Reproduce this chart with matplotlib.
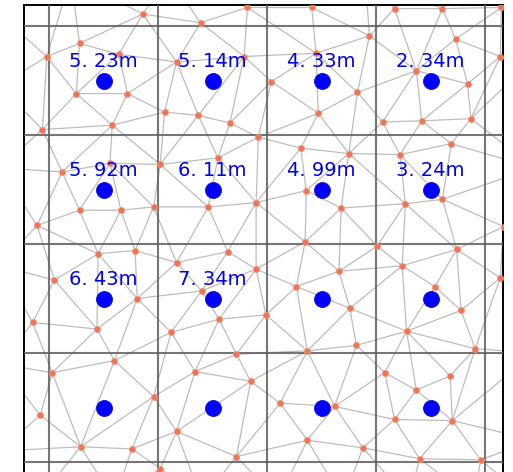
import matplotlib
matplotlib.use("Agg")
import matplotlib.pyplot as plt
import matplotlib.tri as mtri
import numpy as np

# sensor nodes (cell units, cell grid lines at 0..4, y down)
node_x = [0.86, 1.39, 1.82, 2.41, 3.17, 3.61, 4.15, 0.28, -0.02, 0.64, 1.17, 1.79, 2.94, 3.73, 4.14, 2.45,
          0.25, 0.72, 1.06, 1.37, 1.66, 0.58, -0.06, 2.04, 2.83, 3.37, 3.84, 2.47, 3.06, 3.42, 3.87,
          1.92, 1.55, 1.02, 0.56, 0.12, 2.31, 2.75, 3.22, 3.69,
          0.28, 0.66, 0.96, 1.46, 1.90, -0.11, 2.36, 2.68, 3.27, 3.61, 4.17, 2.35,
          0.45, 0.79, 1.17, 1.64, 1.90, 0.05, 0.81, 1.40, 3.01, 3.74, 2.66, 3.24, 4.14, 2.27, 3.54,
          -0.15, 0.44, 1.12, 1.56, 1.99, 2.76, 3.78, 3.28, 2.82, 2.37, 3.91,
          0.60, 0.03, 1.72, 1.34, 1.85, 3.08, 3.68, 3.37,
          0.96, -0.08, 2.12, 2.62, 3.17, 3.70, 1.17, 0.29, 0.76, 1.72, 1.02, 2.37, 2.88, 3.40, 3.96]
node_y = [-0.11, -0.03, -0.17, -0.17, -0.16, -0.16, -0.17, 0.16, 0.28, 0.26, 0.33, 0.28, 0.09, 0.12, 0.28, 0.25,
          0.62, 0.62, 0.79, 0.82, 0.89, 0.91, 0.95, 0.51, 0.61, 0.41, 0.53, 0.80, 0.88, 0.87, 0.85,
          1.02, 1.21, 1.27, 1.26, 1.34, 1.12, 1.17, 1.18, 1.08,
          1.69, 1.69, 1.66, 1.66, 1.62, 1.83, 1.51, 1.67, 1.63, 1.59, 1.84, 1.98,
          2.09, 2.06, 2.17, 2.07, 2.23, 2.33, 2.50, 2.43, 2.02, 2.05, 2.25, 2.20, 2.31, 2.39, 2.39,
          2.72, 2.78, 2.81, 2.69, 2.65, 2.59, 2.61, 2.80, 2.93, 2.98, 2.96,
          3.07, 3.18, 3.01, 3.17, 3.26, 3.18, 3.21, 3.34,
          3.40, 3.57, 3.46, 3.49, 3.61, 3.62, 3.72, 3.86, 3.88, 3.95, 4.06, 3.80, 3.87, 3.97, 3.98]

# nodes just outside the visible frame (only their links show)
outer_x = [-0.45, -0.45, -0.45, -0.45, -0.45, -0.45, 0.2, 1.1, 2.1, 2.9, 3.9,
           4.45, 4.45, 4.45, 4.45, 4.45, -0.1, 0.6, 1.4, 2.1, 2.7, 3.3, 3.9, 4.4,
           -0.45, 4.45, -0.45, 4.45]
outer_y = [-0.1, 0.55, 1.3, 2.2, 3.1, 3.9, -0.45, -0.45, -0.45, -0.45, -0.45,
           0.3, 1.3, 2.2, 3.0, 3.8, 4.35, 4.35, 4.35, 4.35, 4.35, 4.35, 4.35, 4.35,
           -0.45, -0.45, 4.35, 4.35]

# distances per cell, row by row (None = no reading)
distances = [5.23, 5.14, 4.33, 2.34,
             5.92, 6.11, 4.99, 3.24,
             6.43, 7.34, None, None,
             None, None, None, None]
n_cells = 4

fig = plt.figure(figsize=(5.13, 4.72), dpi=100)
ax = fig.add_axes([24/513, 0, 479/513, 467/472])

all_x = np.array(node_x + outer_x)
all_y = np.array(node_y + outer_y)
tri = mtri.Triangulation(all_x, all_y)
ax.triplot(tri, color="#bdbdbd", lw=0.9, zorder=1)
ax.plot(node_x, node_y, "o", color="#ee7555", ms=4.5, mec="#f29b80", mew=0.5, zorder=3)

# grid of cells
ax.set_xticks(np.arange(0, n_cells+1))
ax.set_yticks(np.arange(0, n_cells+1))
ax.grid(color="#5e5e5e", linestyle="-", linewidth=1.5, alpha=0.85, zorder=2)
ax.set_axisbelow(False)
ax.tick_params(length=0, labelbottom=False, labelleft=False)

cx, cy = np.meshgrid(np.arange(n_cells) + 0.5, np.arange(n_cells) + 0.5)
ax.plot(cx.ravel(), cy.ravel(), "o", color="#0000ff", ms=11.5, mec="#1010d0", mew=0.6, zorder=4)
for x, y, d in zip(cx.ravel(), cy.ravel(), distances):
    if d is None:
        continue
    lbl = f"{d:.2f}m".replace(".", ". ")
    ax.annotate(lbl, (x, y), xytext=(0, 9.5), textcoords="offset points",
                ha="center", va="baseline", color="#0000ee", fontsize=14,
                family="DejaVu Sans", zorder=5)

ax.set_xlim(-0.2294, 4.1651)
ax.set_ylim(4.0917, -0.1927)
for s in ["left", "top", "right"]:
    ax.spines[s].set_linewidth(1.4)
    ax.spines[s].set_color("black")
ax.spines["bottom"].set_visible(False)

fig.savefig("out.png", dpi=100)
